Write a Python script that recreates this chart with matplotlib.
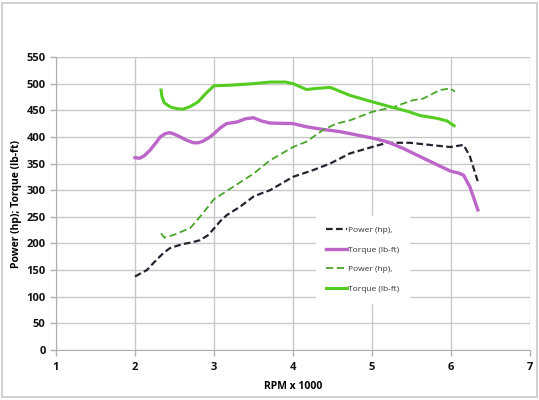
import matplotlib
matplotlib.use("Agg")
import matplotlib.pyplot as plt
from matplotlib.patches import Rectangle
from matplotlib.lines import Line2D

plt.rcParams['font.family'] = ['Open Sans', 'DejaVu Sans']

# Black dashed: Power (hp)
p1_rpm = [2.0, 2.15, 2.27, 2.36, 2.44, 2.52, 2.61, 2.72, 2.82, 2.92, 3.0, 3.08, 3.16, 3.33,
          3.5, 3.6, 3.71, 4.0, 4.26, 4.47, 4.72, 5.0, 5.19, 5.48, 5.73, 5.99, 6.16, 6.24, 6.34]
p1_val = [138, 150, 169, 182, 191, 195, 199, 202, 206, 215, 228, 242, 253, 269,
          288, 294, 300, 325, 338, 350, 369, 381, 389, 389, 385, 381, 385, 363, 316]
# Purple solid: Torque (lb-ft)
t1_rpm = [2.0, 2.06, 2.12, 2.19, 2.26, 2.32, 2.38, 2.44, 2.50, 2.57, 2.65, 2.74, 2.80, 2.86,
          2.93, 3.0, 3.08, 3.16, 3.29, 3.40, 3.5, 3.6, 3.71, 4.0, 4.17, 4.38, 4.59, 5.0,
          5.19, 5.40, 5.65, 5.82, 5.99, 6.10, 6.16, 6.24, 6.34]
t1_val = [361, 360, 365, 375, 388, 400, 406, 408, 405, 400, 394, 389, 389, 392,
          398, 406, 417, 425, 428, 434, 436, 430, 426, 425, 419, 414, 410, 398,
          391, 378, 360, 348, 336, 332, 328, 306, 263]
# Green dashed: Power (hp)
p2_rpm = [2.33, 2.37, 2.49, 2.70, 2.85, 3.0, 3.24, 3.5, 3.71, 4.0, 4.17, 4.38, 4.55, 4.72,
          5.0, 5.27, 5.52, 5.65, 5.86, 5.99, 6.05]
p2_val = [219, 211, 216, 229, 255, 283, 306, 331, 356, 381, 391, 413, 425, 431,
          447, 456, 469, 472, 488, 491, 485]
# Green solid: Torque (lb-ft)
t2_rpm = [2.33, 2.34, 2.37, 2.45, 2.53, 2.61, 2.70, 2.8, 2.9, 3.0, 3.2, 3.5, 3.71, 3.9,
          4.0, 4.17, 4.3, 4.47, 4.72, 5.0, 5.27, 5.45, 5.61, 5.82, 5.95, 6.04]
t2_val = [488, 476, 464, 456, 453, 452, 457, 466, 482, 496, 497, 500, 503, 503,
          500, 489, 491, 493, 478, 466, 455, 448, 440, 435, 430, 421]

x_ticks = [1, 2, 3, 4, 5, 6, 7]
y_ticks = list(range(0, 551, 50))
labels = ["Power (hp),", "Torque (lb-ft)", "Power (hp),", "Torque (lb-ft)"]

fig = plt.figure(figsize=(5.39, 4.0), dpi=100)
fig.patches.append(Rectangle((2/539, 3/400), 535/539, 394/400, transform=fig.transFigure,
                             fill=False, edgecolor='#c8c8c8', linewidth=1.2))
ax = fig.add_axes([56/539, 50/400, 474/539, 293/400])

ax.plot(p1_rpm, p1_val, color='#2a2230', lw=1.6, ls=(0, (3, 1.5)), zorder=3)
ax.plot(t1_rpm, t1_val, color='#bb66c8', lw=2.4, zorder=3)
ax.plot(p2_rpm, p2_val, color='#4aa52a', lw=1.3, ls=(0, (4, 2)), zorder=3)
ax.plot(t2_rpm, t2_val, color='#55cc22', lw=2.2, zorder=3)

ax.set_xlim(1, 7)
ax.set_ylim(0, 550)
ax.set_xticks(x_ticks)
ax.set_yticks(y_ticks)
ax.grid(True, color='#c8c8c8', lw=1.0)
for s in ax.spines.values():
    s.set_visible(False)
ax.spines['left'].set_visible(True)
ax.spines['bottom'].set_visible(True)
ax.spines['left'].set_color('#b0b0b0')
ax.spines['bottom'].set_color('#b0b0b0')
ax.tick_params(axis='both', colors='#b0b0b0', labelcolor='#111111', length=4, width=1,
               labelsize=8)
ax.tick_params(axis='x', pad=5)
for lab in ax.get_xticklabels() + ax.get_yticklabels():
    lab.set_fontweight('bold')
ax.set_xlabel("RPM x 1000", fontsize=7.5, fontweight='bold')
ax.set_ylabel("Power (hp); Torque (lb-ft)", fontsize=7.5, fontweight='bold')
ax.xaxis.set_label_coords(0.5, -0.106)
ax.yaxis.set_label_coords(-0.072, 0.5)

handles = [Line2D([], [], color='#2a2230', lw=1.6, ls=(0, (3, 1.5))),
           Line2D([], [], color='#bb66c8', lw=2.4),
           Line2D([], [], color='#4aa52a', lw=1.3, ls=(0, (4, 2))),
           Line2D([], [], color='#55cc22', lw=2.2)]
leg = ax.legend(handles, labels, loc='upper left', bbox_to_anchor=(0.54, 0.47),
                frameon=True, fontsize=6, handlelength=2.5, handletextpad=0.1,
                labelspacing=1.4, borderpad=1.2, fancybox=False)
leg.get_frame().set_edgecolor('white')
leg.get_frame().set_facecolor('white')
leg.get_frame().set_alpha(1.0)
for t in leg.get_texts():
    t.set_color('#333333')

fig.savefig("out.png", dpi=100)
